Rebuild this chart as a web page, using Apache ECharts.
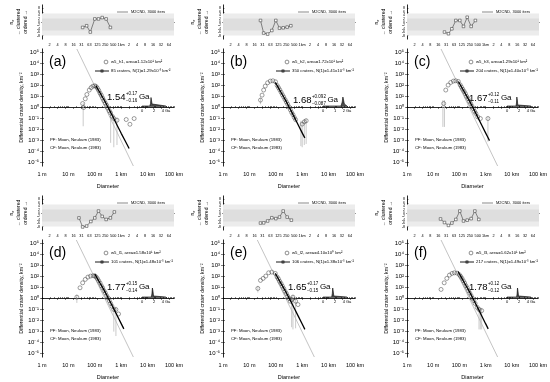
<!DOCTYPE html>
<html><head><meta charset="utf-8">
<script src="https://cdn.jsdelivr.net/npm/echarts@6/dist/echarts.min.js"></script>
<style>html,body{margin:0;padding:0;background:#fff}#c{width:550px;height:382px}</style>
</head><body><div id="c"></div>
<script>
// ===== DATA (log10 units: diameter in metres, density in km^-2) =====
const panelLetters = ['(a)','(b)','(c)','(d)','(e)','(f)'];
const areaNames = ['w5_h1','w5_h2','w5_h3','w5_l1','w5_l2','w5_l3'];
const areaValues = ['1.12x10¹','1.72x10¹','1.29x10¹','1.58x10¹','4.10x10⁰','1.62x10¹'];
const craterCounts = [85,350,204,101,106,217];
const n1Values = ['1.29x10⁻³','1.41x10⁻³','1.40x10⁻³','1.48x10⁻³','1.38x10⁻³','1.49x10⁻³'];
const ageValues = ['1.54','1.68','1.67','1.77','1.65','1.78'];
const agePlus = ['+0.17','+0.092','+0.12','+0.15','+0.17','+0.12'];
const ageMinus = ['−0.16','−0.087','−0.11','−0.14','−0.15','−0.12'];
const pdfAxisMax = [4,2,4,4,4,4];
const bottomTickLabels = ['1 m','10 m','100 m','1 km','10 km','100 km'];
const topTickLabels = ['2','4','8','16','31','63','125','250','500','1km','2','4','8','16','32','64'];
const topTickDiam = [1.953125,3.90625,7.8125,15.625,31.25,62.5,125,250,500,1000,2000,4000,8000,16000,32000,64000];
const yDecades = [-5,-4,-3,-2,-1,0,1,2,3,4,5];
// randomness band limits (n_sigma)
const bandOuter = [-8, 5];
const bandInner = [-5, 2];

// CSFD points [logD, logDensity]
const csfdA = [[1.54,0.36],[1.58,0.0],[1.64,0.79],[1.70,1.18],[1.79,1.58],[1.86,1.8],[1.93,1.93],[2.0,1.97],[2.05,1.9],[2.1,1.75],[2.15,1.55],[2.2,1.3],[2.25,1.1],[2.3,0.85],[2.35,0.62],[2.4,0.4],[2.45,0.2],[2.5,-0.05],[2.55,-0.3],[2.6,-0.5],[2.66,-0.8],[2.72,-1.0],[2.84,-1.15],[3.19,-1.09],[3.33,-1.52],[3.49,-1.0]];
const csfdB = [[1.42,0.67],[1.48,1.12],[1.54,1.58],[1.60,1.94],[1.69,2.24],[1.79,2.39],[1.89,2.42],[1.99,2.33],[2.05,2.0],[2.1,1.8],[2.15,1.6],[2.2,1.38],[2.25,1.15],[2.3,0.95],[2.35,0.72],[2.4,0.5],[2.45,0.3],[2.5,0.05],[2.55,-0.2],[2.6,-0.45],[2.65,-0.65],[2.7,-0.9],[2.75,-1.1],[3.0,-1.5],[3.08,-1.3],[3.15,-1.2]];
const csfdC = [[1.40,0.36],[1.48,1.58],[1.57,2.03],[1.67,2.27],[1.77,2.39],[1.86,2.42],[1.96,2.36],[2.03,2.05],[2.08,1.85],[2.13,1.65],[2.18,1.45],[2.23,1.25],[2.28,1.0],[2.33,0.8],[2.38,0.55],[2.43,0.35],[2.48,0.12],[2.53,-0.1],[2.58,-0.35],[2.63,-0.55],[2.7,-0.85],[2.8,-1.0],[3.09,-1.0]];
const csfdD = [[1.32,0.12],[1.44,0.97],[1.54,1.42],[1.64,1.73],[1.74,1.94],[1.84,2.03],[1.94,2.06],[2.0,2.05],[2.05,1.95],[2.1,1.8],[2.15,1.6],[2.2,1.4],[2.25,1.15],[2.3,0.95],[2.35,0.7],[2.4,0.5],[2.45,0.25],[2.5,0.05],[2.55,-0.2],[2.6,-0.45],[2.65,-0.7],[2.72,-1.0],[2.8,-1.0],[2.9,-1.4]];
const csfdE = [[1.32,0.91],[1.42,1.64],[1.52,1.82],[1.62,2.03],[1.73,2.33],[1.85,2.39],[1.98,2.27],[2.05,1.95],[2.1,1.78],[2.15,1.55],[2.2,1.35],[2.25,1.12],[2.3,0.9],[2.35,0.65],[2.4,0.45],[2.45,0.2],[2.5,0.0],[2.55,-0.25],[2.6,-0.1],[2.65,0.12],[2.75,-0.24],[2.84,-0.55]];
const csfdF = [[1.30,0.82],[1.42,1.42],[1.52,1.82],[1.62,2.12],[1.72,2.27],[1.81,2.33],[1.91,2.3],[2.0,2.15],[2.05,2.0],[2.1,1.82],[2.15,1.6],[2.2,1.4],[2.25,1.15],[2.3,0.95],[2.35,0.7],[2.4,0.48],[2.45,0.25],[2.5,0.02],[2.55,-0.2],[2.6,-0.45],[2.68,-0.8],[2.75,-1.0],[2.85,-1.1]];

// error bars [logD, logLow, logHigh]
const errA = [[1.56,-1.7,0.4],[2.6,-3.2,-0.3],[2.72,-3.6,-0.7],[2.84,-3.4,-0.9]];
const errB = [[1.42,0.3,0.9],[2.95,-3.5,-1.2],[3.0,-3.6,-1.3],[3.08,-3.4,-1.1],[3.15,-3.3,-1.0]];
const errC = [[1.37,-1.76,0.67],[1.43,-1.76,0.67],[3.09,-3.1,-0.8]];
const errD = [[1.32,-0.4,0.35],[2.72,-3.0,-0.75],[2.8,-3.4,-0.75]];
const errE = [[1.32,0.55,1.15],[2.6,-2.6,0.15],[2.65,-2.8,0.35],[2.75,-2.7,0.0]];
const errF = [[2.75,-2.8,-0.75],[2.8,-2.8,-0.8],[2.85,-2.8,-0.85]];

// isochron (fit) curves
const isoA = [[2.04,1.98],[2.2,1.32],[2.35,0.7],[2.48,0.12],[2.7,-0.91],[3.0,-2.34],[3.3,-3.71]];
const isoB = [[1.98,2.27],[2.2,1.36],[2.35,0.74],[2.48,0.16],[2.7,-0.87],[3.0,-2.3],[3.1,-2.75]];
const isoC = [[1.96,2.36],[2.2,1.36],[2.35,0.74],[2.48,0.16],[2.7,-0.87],[3.0,-2.3],[3.15,-3.0]];
const isoD = [[2.0,2.21],[2.2,1.38],[2.35,0.76],[2.48,0.18],[2.7,-0.85],[3.0,-2.28],[3.1,-2.75]];
const isoE = [[1.98,2.27],[2.2,1.35],[2.35,0.73],[2.48,0.15],[2.7,-0.88],[3.0,-2.31],[3.1,-2.8]];
const isoF = [[1.95,2.45],[2.2,1.38],[2.35,0.76],[2.48,0.18],[2.7,-0.85],[3.0,-2.28],[3.1,-2.75]];

// straight grey reference line end points [logD, logDensity]
const refLineA = [[1.32,5.3],[3.46,-5.3]];
const refLineB = [];
const refLineC = [[1.30,5.3],[3.46,-5.3]];
const refLineD = [[1.30,5.3],[3.46,-5.3]];
const refLineE = [[1.30,5.3],[3.46,-5.3]];
const refLineF = [[1.30,5.3],[3.46,-5.3]];

// randomness analysis [logD, n_sigma]
const randA = [[1.54,-3.2],[1.69,-2.2],[1.83,-5.9],[2.0,1.8],[2.14,1.8],[2.28,2.6],[2.43,1.8],[2.59,-3.2]];
const randB = [[1.42,0.9],[1.54,-6.5],[1.69,-7.1],[1.85,-5.0],[2.0,0.9],[2.14,-3.6],[2.28,-3.4],[2.43,-3.0],[2.57,-2.2]];
const randC = [[1.42,-5.9],[1.57,-6.9],[1.70,-4.0],[1.85,0.9],[2.0,0.9],[2.14,-2.6],[2.28,2.8],[2.43,-2.6],[2.59,0.9]];
const randD = [[1.40,-2.9],[1.54,-8.2],[1.69,-7.7],[1.85,-5.0],[2.0,-2.9],[2.14,1.15],[2.28,-2.0],[2.43,-3.8],[2.59,-2.9],[2.74,0.6]];
const randE = [[1.42,-5.9],[1.54,-5.8],[1.69,-4.7],[1.85,-2.8],[2.0,-3.3],[2.14,-2.4],[2.28,1.15],[2.43,-2.4],[2.59,-4.2]];
const randF = [[1.27,-3.5],[1.42,-5.6],[1.57,-7.3],[1.70,-5.9],[1.85,-3.8],[2.0,1.15],[2.14,-4.7],[2.28,-4.2],[2.43,-3.3],[2.57,1.15],[2.72,-3.8]];

// age probability density (inset) [age Ga, relative probability]
const pdfA = [[0,0],[1.3,0],[1.42,0.25],[1.5,0.85],[1.54,1],[1.6,0.7],[1.68,0.2],[1.8,0],[4,0]];
const pdfB = [[0,0],[1.5,0],[1.6,0.4],[1.66,0.9],[1.68,1],[1.72,0.7],[1.78,0.2],[1.85,0],[2,0]];
const pdfC = [[0,0],[1.5,0],[1.58,0.3],[1.64,0.9],[1.67,1],[1.72,0.6],[1.8,0.1],[1.9,0],[4,0]];
const pdfD = [[0,0],[1.55,0],[1.65,0.3],[1.73,0.9],[1.77,1],[1.83,0.6],[1.92,0.1],[2.0,0],[4,0]];
const pdfE = [[0,0],[1.45,0],[1.55,0.35],[1.62,0.9],[1.65,1],[1.7,0.6],[1.8,0.1],[1.9,0],[4,0]];
const pdfF = [[0,0],[1.6,0],[1.68,0.3],[1.75,0.9],[1.78,1],[1.83,0.6],[1.92,0.1],[2.0,0],[4,0]];

const csfdAll = [csfdA,csfdB,csfdC,csfdD,csfdE,csfdF];
const errAll = [errA,errB,errC,errD,errE,errF];
const isoAll = [isoA,isoB,isoC,isoD,isoE,isoF];
const refAll = [refLineA,refLineB,refLineC,refLineD,refLineE,refLineF];
const randAll = [randA,randB,randC,randD,randE,randF];
const pdfAll = [pdfA,pdfB,pdfC,pdfD,pdfE,pdfF];

// ===== LAYOUT =====
const colL = [42, 223, 407];
const plotW = 132;
const rowMainT = [49, 240];
const mainH = 117;
const rowTopT = [5, 196];
const topH = 34;
const ageOff = [[65,48],[70,51],[62,49],[65,47],[65,47],[62,47]];
const FONT = '"Liberation Sans", Arial, Helvetica, sans-serif';

const supMap = {'-':'⁻','0':'⁰','1':'¹','2':'²','3':'³','4':'⁴','5':'⁵','6':'⁶','7':'⁷','8':'⁸','9':'⁹'};
const sup = s => String(s).split('').map(c => supMap[c] || c).join('');
const minorLog = [];
for (let n = 0; n < 5; n++) for (let k = 1; k < 10; k++) minorLog.push(Math.log10(k * Math.pow(10, n)));
minorLog.push(5);
const topTickLog = topTickDiam.map(d => Math.log10(d));

const mctx = document.createElement('canvas').getContext('2d');
const tw = (t, size) => { mctx.font = size + 'px ' + FONT; return mctx.measureText(t).width; };

const grids = [], xAxes = [], yAxes = [], series = [], graphics = [];
const frameLine = {show:true, lineStyle:{color:'#000', width:0.6}};

function addText(x, y, text, size, opts) {
  graphics.push({type:'text', x, y, silent:true,
    style:Object.assign({text, fontSize:size, fontFamily:FONT, fill:'#000', textVerticalAlign:'middle', textAlign:'left'}, opts || {})});
}

for (let i = 0; i < 6; i++) {
  const col = i % 3, row = Math.floor(i / 3);
  const L = colL[col], Tm = rowMainT[row], Tt = rowTopT[row];

  // --- top randomness panel ---
  const gT = grids.length;
  grids.push({left:L, top:Tt, width:plotW, height:topH});
  const xT = xAxes.length;
  xAxes.push({gridIndex:gT, type:'value', min:0, max:5, position:'bottom', axisLine:frameLine,
    axisTick:{show:true, inside:true, length:1.5, customValues: topTickLog, lineStyle:{width:0.5}}, axisLabel:{show:false}, splitLine:{show:false}});
  xAxes.push({gridIndex:gT, type:'value', min:0, max:5, position:'top', axisLine:frameLine,
    axisTick:{show:false}, axisLabel:{show:false}, splitLine:{show:false}});
  const yT = yAxes.length;
  yAxes.push({gridIndex:gT, type:'value', min:-10, max:10, interval:2, position:'left', axisLine:frameLine,
    axisTick:{show:true, inside:true, length:1.5, lineStyle:{width:0.5}},
    axisLabel:{fontSize:3.5, margin:2, fontFamily:FONT, color:'#000'}, splitLine:{show:false},
    name:'{n|n}{s|σ}\n← clustered\nordered →', nameLocation:'middle', nameGap:13,
    nameTextStyle:{fontSize:5, fontFamily:FONT, color:'#000', lineHeight:7,
      rich:{n:{fontSize:5, fontFamily:FONT}, s:{fontSize:3.5, fontFamily:FONT, verticalAlign:'bottom'}}}});
  yAxes.push({gridIndex:gT, type:'value', min:-10, max:10, interval:2, position:'right', axisLine:frameLine,
    axisTick:{show:false}, axisLabel:{show:false}, splitLine:{show:false}});
  series.push({type:'line', xAxisIndex:xT, yAxisIndex:yT, data:randAll[i], symbol:'rect', symbolSize:2.6,
    showAllSymbol:true, lineStyle:{color:'#555', width:0.7}, itemStyle:{color:'#fff', borderColor:'#444', borderWidth:0.6},
    z:5, silent:true,
    markArea:{silent:true, data:[
      [{xAxis:0, yAxis:bandOuter[0], itemStyle:{color:'#ececec'}},{xAxis:5, yAxis:bandOuter[1]}],
      [{xAxis:0, yAxis:bandInner[0], itemStyle:{color:'#dedede'}},{xAxis:5, yAxis:bandInner[1]}]
    ]}});
  graphics.push({type:'line', silent:true, shape:{x1:L+75, y1:Tt+7, x2:L+86, y2:Tt+7}, style:{stroke:'#c4c4c4', lineWidth:2}});
  addText(L+89, Tt+7, 'M2CND, 3000 iters', 4);

  // --- main CSFD panel ---
  const gM = grids.length;
  grids.push({left:L, top:Tm, width:plotW, height:mainH});
  const xM = xAxes.length;
  xAxes.push({gridIndex:gM, type:'value', min:0, max:5, position:'bottom', axisLine:frameLine,
    axisTick:{show:true, inside:true, length:1.5, customValues:minorLog, lineStyle:{width:0.5}},
    axisLabel:{customValues:[0,1,2,3,4,5], formatter:v => bottomTickLabels[Math.round(v)], fontSize:5.5, margin:5, fontFamily:FONT, color:'#000'},
    splitLine:{show:false}, name:'Diameter', nameLocation:'middle', nameGap:17,
    nameTextStyle:{fontSize:5.5, fontFamily:FONT, color:'#000'}});
  xAxes.push({gridIndex:gM, type:'value', min:0, max:5, position:'top', axisLine:frameLine,
    axisTick:{show:true, inside:true, length:1.5, customValues:topTickLog, lineStyle:{width:0.5}},
    axisLabel:{customValues:topTickLog, formatter:(v) => { const k = topTickLog.findIndex(t => Math.abs(t - v) < 1e-6); return k >= 0 ? topTickLabels[k] : ''; },
      fontSize:3.8, margin:2, fontFamily:FONT, color:'#000'}, splitLine:{show:false}});
  const yM = yAxes.length;
  yAxes.push({gridIndex:gM, type:'value', min:-5.3, max:5.3, position:'left', axisLine:frameLine,
    axisTick:{show:true, inside:true, length:2, customValues:yDecades, lineStyle:{width:0.5}},
    axisLabel:{customValues:yDecades, formatter:v => '10' + sup(Math.round(v)), fontSize:6, margin:3, fontFamily:FONT, color:'#000'},
    splitLine:{show:false}, name:'Differential crater density, km⁻²', nameLocation:'middle', nameGap:17,
    nameTextStyle:{fontSize:5.2, fontFamily:FONT, color:'#000'}});
  yAxes.push({gridIndex:gM, type:'value', min:-5.3, max:5.3, position:'right', axisLine:frameLine,
    axisTick:{show:true, inside:true, length:2, customValues:yDecades, lineStyle:{width:0.5}}, axisLabel:{show:false}, splitLine:{show:false}});

  if (refAll[i].length) series.push({type:'line', xAxisIndex:xM, yAxisIndex:yM, data:refAll[i], symbol:'none',
    lineStyle:{color:'#aaaaaa', width:0.7}, silent:true, z:1});
  series.push({type:'custom', xAxisIndex:xM, yAxisIndex:yM, data:errAll[i], silent:true, z:2,
    renderItem:(params, api) => {
      const p1 = api.coord([api.value(0), api.value(1)]);
      const p2 = api.coord([api.value(0), api.value(2)]);
      return {type:'line', shape:{x1:p1[0], y1:p1[1], x2:p2[0], y2:p2[1]}, style:{stroke:'#bdbdbd', lineWidth:0.8}};
    }});
  series.push({type:'scatter', xAxisIndex:xM, yAxisIndex:yM, data:csfdAll[i], symbol:'circle', symbolSize:4,
    itemStyle:{color:'rgba(255,255,255,0)', borderColor:'#444', borderWidth:0.65}, silent:true, z:3});
  series.push({type:'line', xAxisIndex:xM, yAxisIndex:yM, data:isoAll[i], symbol:'none', smooth:0.2,
    lineStyle:{color:'#000', width:1.3}, silent:true, z:4});

  addText(L+7, Tm+13, panelLetters[i], 14);
  graphics.push({type:'circle', silent:true, shape:{cx:L+64, cy:Tm+13, r:1.9}, style:{fill:'none', stroke:'#444', lineWidth:0.6}});
  addText(L+69, Tm+13, areaNames[i] + ', area=' + areaValues[i] + ' km²', 4.3);
  graphics.push({type:'line', silent:true, shape:{x1:L+53, y1:Tm+22, x2:L+67, y2:Tm+22}, style:{stroke:'#000', lineWidth:0.9}});
  graphics.push({type:'rect', silent:true, shape:{x:L+58.8, y:Tm+20.8, width:2.4, height:2.4}, style:{fill:'#555', stroke:'#000', lineWidth:0.4}});
  addText(L+69, Tm+22, craterCounts[i] + ' craters, N(1)=' + n1Values[i] + ' km⁻²', 4.3);
  addText(L+8, Tm+91, 'PF: Moon, Neukum (1983)', 4.3);
  addText(L+8, Tm+99, 'CF: Moon, Neukum (1983)', 4.3);
  const ax = L + ageOff[i][0], ay = Tm + ageOff[i][1];
  const nW = tw(ageValues[i], 9.5);
  addText(ax, ay, ageValues[i], 9.5);
  addText(ax + nW + 0.5, ay - 3.6, agePlus[i], 4.5);
  addText(ax + nW + 0.5, ay + 3.6, ageMinus[i], 4.5);
  const sW = Math.max(tw(agePlus[i], 4.5), tw(ageMinus[i], 4.5));
  addText(ax + nW + sW + 2, ay, 'Ga', 8);

  // --- inset age pdf ---
  const gI = grids.length;
  grids.push({left:L + 100, top:Tm + 47, width:24, height:10});
  const xI = xAxes.length;
  const pmax = pdfAxisMax[i];
  xAxes.push({gridIndex:gI, type:'value', min:0, max:pmax, interval:pmax / 2, position:'bottom',
    axisLine:{show:true, lineStyle:{color:'#000', width:0.6}}, axisTick:{show:true, length:1.2, lineStyle:{width:0.5}},
    axisLabel:{fontSize:4, margin:2.5, fontFamily:FONT, color:'#000', formatter:v => (v === pmax ? v + ' Ga' : String(v))},
    splitLine:{show:false}});
  const yI = yAxes.length;
  yAxes.push({gridIndex:gI, type:'value', min:0, max:1, show:false});
  series.push({type:'line', xAxisIndex:xI, yAxisIndex:yI, data:pdfAll[i], symbol:'none',
    lineStyle:{color:'#000', width:0.6}, areaStyle:{color:'#000'}, silent:true});
}

const chart = echarts.init(document.getElementById('c'), null, {renderer:'canvas', width:550, height:382});
chart.setOption({animation:false, backgroundColor:'#fff', grid:grids, xAxis:xAxes, yAxis:yAxes, series, graphic:graphics});
</script></body></html>
